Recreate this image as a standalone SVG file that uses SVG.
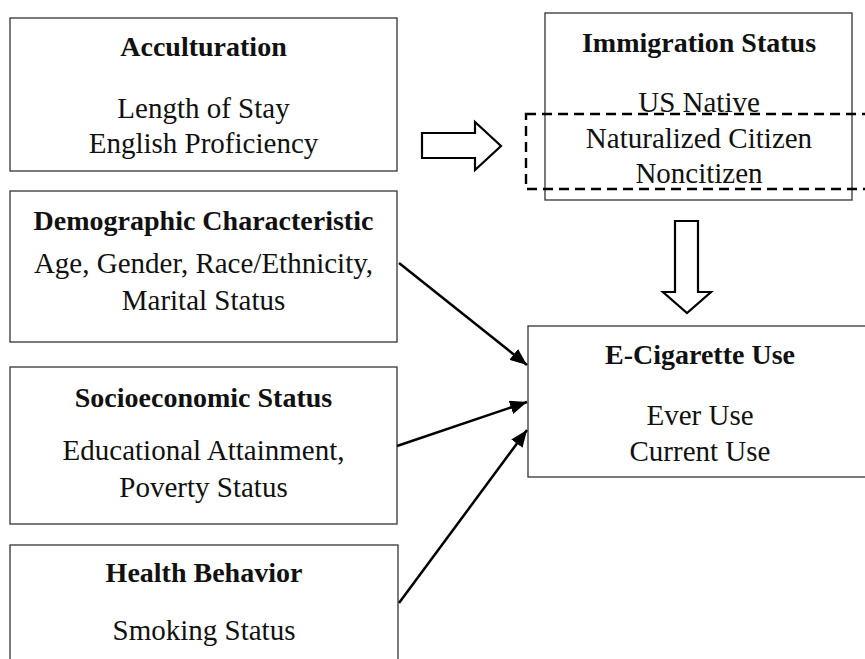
<svg xmlns="http://www.w3.org/2000/svg" width="865" height="659" viewBox="0 0 865 659">
<defs>
<style>
.box{fill:#fff;stroke:#333;stroke-width:1.3}
.t{font-family:"Liberation Serif","Times New Roman",serif;font-size:29px;fill:#111;text-anchor:middle}
.b{font-weight:bold;font-size:28px}
.blk{fill:#fff;stroke:#000;stroke-width:2.2;stroke-linejoin:miter}
.con{stroke:#000;stroke-width:2.5;fill:none}
.dash{fill:none;stroke:#000;stroke-width:2.4;stroke-dasharray:10 6}
</style>
<marker id="ah" markerUnits="userSpaceOnUse" markerWidth="18" markerHeight="14" refX="17" refY="7" orient="auto">
<path d="M0,0 L17,7 L0,14 z" fill="#000"/>
</marker>
</defs>
<rect width="865" height="659" fill="#fff"/>
<g id="acculturation">
<rect class="box" x="10" y="18" width="387" height="153"/>
<text class="t b" x="203.5" y="56">Acculturation</text>
<text class="t" x="203.5" y="118">Length of Stay</text>
<text class="t" x="203.5" y="153">English Proficiency</text>
</g>
<g id="demographic">
<rect class="box" x="10" y="191" width="387" height="151"/>
<text class="t b" x="203.5" y="230">Demographic Characteristic</text>
<text class="t" x="203.5" y="273">Age, Gender, Race/Ethnicity,</text>
<text class="t" x="203.5" y="310">Marital Status</text>
</g>
<g id="socioeconomic">
<rect class="box" x="10" y="367" width="387" height="157"/>
<text class="t b" x="203.5" y="407">Socioeconomic Status</text>
<text class="t" x="203.5" y="460">Educational Attainment,</text>
<text class="t" x="203.5" y="497">Poverty Status</text>
</g>
<g id="health">
<rect class="box" x="10" y="545" width="388" height="130"/>
<text class="t b" x="204" y="582">Health Behavior</text>
<text class="t" x="204" y="640">Smoking Status</text>
</g>
<g id="immigration">
<rect class="box" x="545" y="13" width="307" height="187"/>
<text class="t b" x="699" y="52">Immigration Status</text>
<text class="t" x="699" y="112">US Native</text>
<text class="t" x="699" y="148">Naturalized Citizen</text>
<text class="t" x="699" y="183">Noncitizen</text>
<rect class="dash" x="526" y="114" width="360" height="75"/>
</g>
<g id="ecig">
<rect class="box" x="528" y="326" width="360" height="151"/>
<text class="t b" x="700" y="364">E-Cigarette Use</text>
<text class="t" x="700" y="425">Ever Use</text>
<text class="t" x="700" y="461">Current Use</text>
</g>
<g id="connectors">
<polygon class="blk" points="422,133 475,133 475,122 501,146 475,170 475,158 422,158"/>
<polygon class="blk" points="675,221 698,221 698,292 711,292 687,313 663,292 675,292"/>
<line class="con" x1="399" y1="263" x2="527" y2="365" marker-end="url(#ah)"/>
<line class="con" x1="397" y1="446" x2="527" y2="402" marker-end="url(#ah)"/>
<line class="con" x1="399" y1="603" x2="527" y2="430" marker-end="url(#ah)"/>
</g>
</svg>
